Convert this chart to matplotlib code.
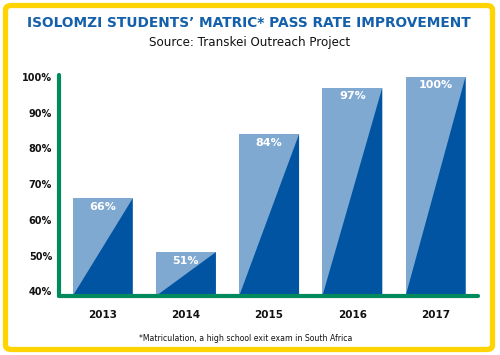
import matplotlib
matplotlib.use("Agg")
import matplotlib.pyplot as plt
from matplotlib.patches import Polygon, FancyBboxPatch
import numpy as np

years = ["2013", "2014", "2015", "2016", "2017"]
rates = [66, 51, 84, 97, 100]
tick_vals = [40, 50, 60, 70, 80, 90, 100]
tick_labels = ["40%", "50%", "60%", "70%", "80%", "90%", "100%"]

LIGHT = "#80a9d2"
DARK = "#0054a2"
GREEN = "#008a5e"
YELLOW = "#ffd400"
TITLE_BLUE = "#1560aa"

W, H = 500, 355
fig = plt.figure(figsize=(W / 100, H / 100), dpi=100)
fig.patch.set_facecolor("white")

# yellow rounded border
border = FancyBboxPatch((5.5 / W, 5.5 / H), (492.5 - 5.5) / W, (349.5 - 5.5) / H,
                        boxstyle="round,pad=0,rounding_size=0.012",
                        transform=fig.transFigure, facecolor="none",
                        edgecolor=YELLOW, linewidth=3.8, zorder=0)
fig.patches.append(border)

ax = fig.add_axes([59 / W, (H - 296) / H, (478 - 59) / W, (296 - 75) / H])
ax.set_xlim(-0.525, 4.51)
ymin = 38.74
ax.set_ylim(ymin, 100.5)

x = np.arange(len(years))
bw = 0.72
ax.bar(x, [r - ymin for r in rates], bottom=ymin, width=bw, color=LIGHT,
       edgecolor="none", zorder=2)
for xi, r in zip(x, rates):
    tri = Polygon([[xi - bw / 2, ymin], [xi + bw / 2, r], [xi + bw / 2, ymin]],
                  closed=True, facecolor=DARK, edgecolor="none", zorder=3)
    ax.add_patch(tri)
    ax.annotate(f"{r}%", (xi, r), xytext=(0, -6.2), textcoords="offset points",
                ha="center", va="center", color="white", fontweight="bold",
                fontsize=8, zorder=4)

for s in ["top", "right"]:
    ax.spines[s].set_visible(False)
for s in ["left", "bottom"]:
    ax.spines[s].set_color(GREEN)
    ax.spines[s].set_linewidth(3.0)
    ax.spines[s].set_capstyle("round")
    ax.spines[s].set_zorder(5)

ax.set_yticks(tick_vals)
ax.set_yticklabels(tick_labels, fontweight="bold", fontsize=7, color="#111111")
ax.set_xticks(x)
ax.set_xticklabels(years, fontweight="bold", fontsize=7.5, color="#111111")
ax.tick_params(axis="y", length=0, pad=5)
ax.tick_params(axis="x", length=0, pad=10)
ax.set_facecolor("none")

fig.text(0.498, (H - 23) / H, "ISOLOMZI STUDENTS\u2019 MATRIC* PASS RATE IMPROVEMENT",
         ha="center", va="center", fontsize=9.9, fontweight="bold", color=TITLE_BLUE)
fig.text(0.5, (H - 42.7) / H, "Source: Transkei Outreach Project",
         ha="center", va="center", fontsize=8.6, color="#111111")
fig.text(0.492, (H - 338.3) / H, "*Matriculation, a high school exit exam in South Africa",
         ha="center", va="center", fontsize=5.6, color="#111111")

fig.savefig("out.png", dpi=100)
